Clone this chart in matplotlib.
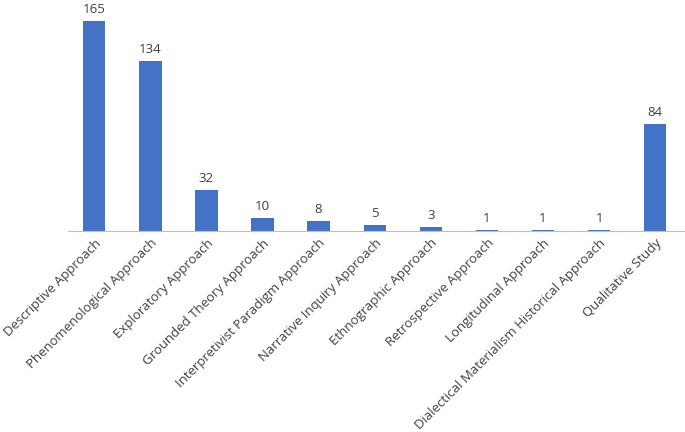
import matplotlib
matplotlib.use("Agg")
import matplotlib.pyplot as plt

categories = ["Descriptive Approach", "Phenomenological Approach", "Exploratory Approach",
              "Grounded Theory Approach", "Interpretivist Paradigm Approach",
              "Narrative Inquiry Approach", "Ethnographic Approach", "Retrospective Approach",
              "Longitudinal Approach", "Dialectical Materialism Historical Approach",
              "Qualitative Study"]
values = [165, 134, 32, 10, 8, 5, 3, 1, 1, 1, 84]

fig = plt.figure(figsize=(6.85, 4.32), dpi=100)
ax = fig.add_axes([0.099, 0.465, 0.901, 0.515])
x = range(len(categories))
ax.bar(x, values, width=0.4, color="#4472C4", zorder=2)
for xi, v in zip(x, values):
    ax.text(xi, v + 4, str(v), ha="center", va="bottom", fontsize=9.5, color="#404040",
            family="Open Sans")
ax.set_xlim(-0.47, 10.53)
ax.set_ylim(0, 175)
ax.set_yticks([])
for s in ["top", "right", "left"]:
    ax.spines[s].set_visible(False)
ax.spines["bottom"].set_color("#BFBFBF")
ax.set_xticks(list(x))
ax.set_xticklabels(categories, rotation=45, ha="right", rotation_mode="anchor",
                   fontsize=9.5, color="#404040", family="Open Sans")
ax.tick_params(axis="x", length=0, pad=4)
fig.savefig("out.png", dpi=100)
